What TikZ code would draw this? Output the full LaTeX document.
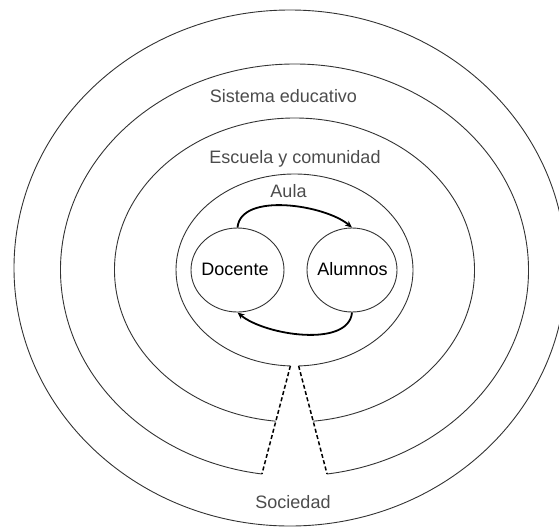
\documentclass[tikz,border=0pt]{standalone}
\usepackage{fontspec}
\setmainfont{Liberation Sans}
\usepackage{tikz}
\usetikzlibrary{shapes}
\usetikzlibrary{arrows.meta}
\tikzset{aro/.style={draw=black!80, line width=0.9pt},
  punteado/.style={draw=black, line width=1.5pt, dash pattern=on 4pt off 2.5pt},
  flecha/.style={draw=black, line width=1.8pt, -{Stealth[length=7pt,width=6pt]}},
  persona/.style={shape=ellipse, draw=black!80, line width=0.9pt, inner sep=0pt, minimum width=93pt, minimum height=84pt},
  rotulo/.style={anchor=base, inner sep=0pt, text=black!70, font=\fontsize{18}{21}\selectfont}}
\newcommand{\anillo}[4]{ \draw[aro] ([shift={(#4-90:#2 and #3)}]294.5,-270) coordinate (#1R) arc[start angle=#4-90, end angle=270-#4, x radius=#2, y radius=#3] coordinate (#1L);}

\begin{document}
\begin{tikzpicture}[x=1pt,y=1pt]
\useasboundingbox (0,-528) rectangle (559,0);
% outer ring
\draw[aro] (290,-268) ellipse[x radius=276, y radius=258];
% open rings
\anillo{sis}{234}{206}{8}
\anillo{esc}{180}{152}{6}
\anillo{aula}{118.5}{96}{2}
% gap down to the outer ring
\draw[punteado] (aulaL) -- (sisL);
\draw[punteado] (aulaR) -- (sisR);
% ring labels
\node[rotulo] (sistema) at (283.5,-102) {Sistema educativo};
\node[rotulo] (escuela) at (295,-163) {Escuela y comunidad};
\node[rotulo] (aulatxt) at (288.5,-197) {Aula};
\node[rotulo] (sociedad) at (293,-508) {Sociedad};
% docente and alumnos
\node[persona] (doc) at (237.5,-270) {};
\node[persona, minimum width=90pt] (alu) at (352,-270) {};
\node[rotulo, text=black] (doctxt) at (235,-275) {Docente};
\node[rotulo, text=black] (alutxt) at (352.5,-275) {Alumnos};
% arrows
\draw[flecha] (doc.north) to[out=85, in=140, looseness=0.8] (alu.north);
\draw[flecha] (alu.south) to[out=-95, in=-40, looseness=0.8] (doc.south);
\end{tikzpicture}
\end{document}
